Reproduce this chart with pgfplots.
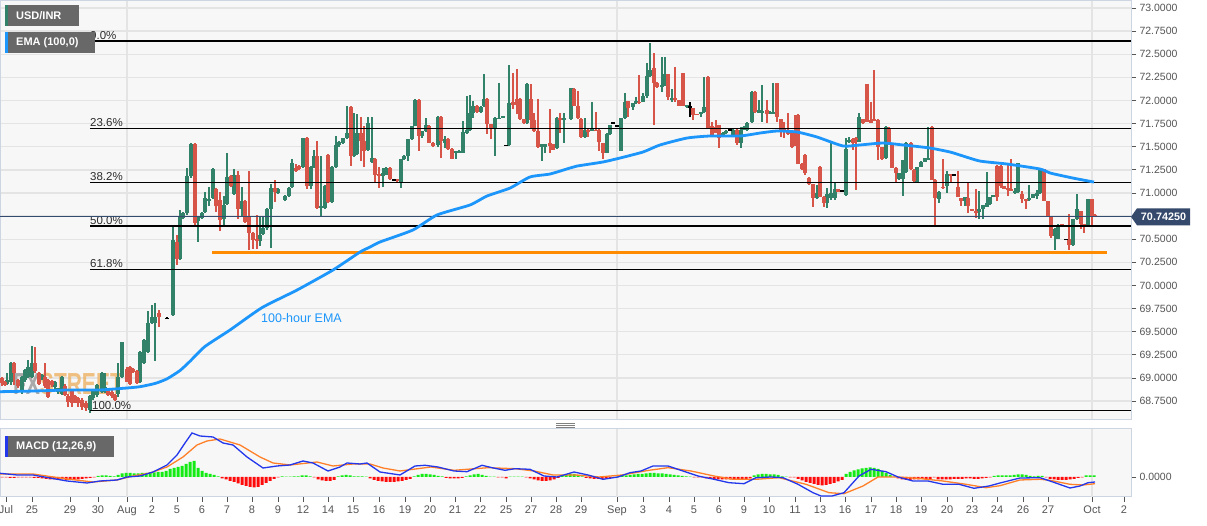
\documentclass[border=0pt]{standalone}
\usepackage{fontspec}
\setmainfont{Liberation Sans}
\usepackage{pgfplots}
\usepackage{pgfplotstable}
\pgfplotsset{compat=1.18}

\definecolor{panelbg}{RGB}{247,247,247}
\definecolor{gridcol}{RGB}{228,228,228}
\definecolor{bordercol}{RGB}{205,212,226}
\definecolor{labelcol}{RGB}{85,85,85}
\definecolor{cgreen}{RGB}{49,130,104}
\definecolor{cred}{RGB}{214,84,72}
\definecolor{emacol}{RGB}{28,150,250}
\definecolor{orangeline}{RGB}{255,140,0}
\definecolor{pricecol}{RGB}{52,75,112}
\definecolor{tagcol}{RGB}{52,73,107}
\definecolor{boxgrey}{RGB}{104,104,104}
\definecolor{macdblue}{RGB}{35,55,235}
\definecolor{macdorange}{RGB}{255,128,40}
\definecolor{histgreen}{RGB}{20,235,20}
\definecolor{histred}{RGB}{255,10,10}
\definecolor{wmgrey}{RGB}{150,150,150}
\definecolor{wmorange}{RGB}{238,178,100}
\definecolor{fibtext}{RGB}{45,45,45}

\newcommand\tickfont{\fontsize{10.5}{12}\selectfont}
\newcommand\boxfont{\bfseries\fontsize{11}{13}\selectfont}
\newcommand\fibfont{\fontsize{11.5}{13}\selectfont}

\pgfplotsset{
  wick/.style={draw=none, mark=none, forget plot,
    error bars/.cd, y dir=both, y explicit, error mark=none,
    error bar style={line width=1.2pt, draw=#1}},
  body/.style={draw=none, mark=none, forget plot,
    error bars/.cd, y dir=both, y explicit, error mark=none,
    error bar style={line width=3.6pt, draw=#1}},
}

% hourly candles: x position (px), open, high, low, close
\pgfplotstableread{
x o h l c
7 68.94 69.05 68.92 68.98
11 68.96 69.17 68.92 69.16
22 68.87 69.02 68.83 69.01
25 68.98 69.10 68.96 69.09
28 69.01 69.19 69.00 69.12
32 69.01 69.34 69.00 69.16
42 69.00 69.04 68.98 69.03
55 68.90 68.97 68.88 68.96
58 68.85 68.89 68.83 68.89
62 68.83 69.02 68.82 69.01
90 68.65 68.82 68.62 68.81
93 68.78 68.88 68.76 68.87
97 68.82 68.93 68.80 68.92
102 68.85 69.07 68.84 69.05
105 68.85 69.05 68.84 68.90
118 68.83 69.16 68.80 69.01
122 69.01 69.39 69.00 69.39
140 68.96 69.29 68.94 69.28
144 69.16 69.42 69.15 69.41
148 69.28 69.73 69.27 69.59
152 69.59 69.79 69.58 69.66
155 69.59 69.81 69.18 69.66
173 69.68 70.64 69.67 70.49
180 70.29 70.82 70.28 70.75
183 70.73 70.79 70.72 70.78
187 70.78 71.27 70.76 71.18
191 71.18 71.54 71.16 71.53
198 70.70 70.74 70.47 70.74
202 70.73 70.79 70.72 70.78
205 70.79 71.01 70.78 70.95
209 70.91 71.06 70.86 70.94
213 70.95 71.27 70.94 71.26
224 70.72 70.97 70.65 70.87
227 70.88 71.43 70.87 71.17
234 70.99 71.26 70.98 71.19
242 70.83 71.06 70.75 70.91
260 70.48 70.75 70.43 70.55
263 70.56 70.75 70.55 70.62
267 70.62 70.84 70.60 70.83
271 70.83 71.10 70.41 71.06
278 71.00 71.05 70.99 71.04
285 70.93 70.98 70.91 70.97
289 70.97 71.07 70.96 71.06
292 71.07 71.37 71.06 71.32
303 71.28 71.60 71.27 71.59
311 71.07 71.29 71.04 71.28
314 71.28 71.47 71.27 71.40
321 70.84 71.40 70.74 70.86
325 70.84 71.09 70.83 71.08
332 70.90 71.29 70.89 71.28
336 71.28 71.62 71.27 71.52
339 71.52 71.56 71.50 71.55
343 71.54 71.60 71.53 71.59
347 71.59 71.94 71.58 71.65
354 71.40 71.86 71.39 71.44
357 71.42 71.86 71.41 71.65
368 71.46 71.82 71.45 71.76
372 71.33 71.82 71.32 71.38
383 71.185 71.275 71.06 71.22
386 71.20 71.28 71.19 71.275
401 71.11 71.37 71.06 71.365
404 71.365 71.41 71.36 71.40
408 71.40 71.58 71.35 71.58
412 71.58 71.73 71.57 71.73
415 71.73 72.02 71.72 72.01
422 71.62 71.67 71.60 71.67
426 71.67 71.815 71.66 71.73
438 71.516 71.83 71.50 71.826
445 71.545 71.62 71.49 71.58
456 71.43 71.46 71.37 71.455
459 71.437 71.46 71.43 71.455
463 71.437 71.78 71.43 71.66
467 71.653 72.05 71.64 71.682
470 71.682 72.056 71.67 71.862
473 71.862 71.995 71.815 71.941
481 71.876 71.94 71.87 71.93
484 71.941 72.283 71.93 72.02
495 71.707 71.82 71.40 71.81
499 71.804 72.193 71.80 71.815
503 71.815 71.83 71.81 71.83
509 71.516 72.38 71.51 71.977
527 71.761 72.19 71.75 72.182
542 71.502 71.53 71.35 71.527
545 71.502 71.53 71.437 71.527
557 71.49 71.82 71.48 71.815
564 71.797 71.869 71.545 71.815
571 71.80 72.14 71.79 72.13
585 71.60 71.81 71.59 71.68
592 71.675 71.99 71.67 71.693
607 71.437 71.65 71.43 71.639
610 71.639 71.74 71.63 71.736
621 71.459 71.81 71.45 71.808
625 71.808 72.078 71.80 71.988
633 71.934 71.975 71.898 71.97
636 71.97 72.042 71.96 71.999
643 71.988 72.078 71.98 72.053
647 72.053 72.402 72.024 72.265
650 72.265 72.625 72.26 72.33
662 72.143 72.474 72.096 72.168
665 72.168 72.474 72.16 72.287
672 72.006 72.121 71.988 72.031
687 71.927 71.955 71.92 71.952
701 71.855 71.88 71.826 71.88
704 71.88 72.251 71.87 71.927
723 71.617 71.66 71.61 71.653
726 71.646 71.68 71.64 71.675
733 71.617 71.69 71.61 71.682
741 71.538 71.718 71.484 71.682
744 71.682 71.72 71.68 71.718
747 71.682 71.77 71.67 71.761
752 71.772 72.10 71.76 72.096
759 71.869 72.006 71.86 71.898
762 71.869 72.168 71.772 71.891
770 71.862 71.89 71.85 71.88
773 71.862 72.186 71.85 71.88
817 70.944 71.088 70.94 71.005
827 70.897 71.052 70.836 70.991
831 70.944 71.545 70.926 71.005
835 70.944 71.106 70.926 71.041
846 70.98 71.592 70.97 71.473
849 71.556 71.603 71.538 71.574
859 71.556 71.869 71.55 71.819
886 71.376 71.72 71.37 71.711
899 71.149 71.22 71.14 71.214
903 71.149 71.36 70.969 71.358
906 71.232 71.55 71.22 71.545
917 71.124 71.28 71.12 71.279
921 71.286 71.35 71.28 71.34
925 71.34 71.38 71.33 71.376
928 71.365 71.718 71.36 71.376
939 70.933 71.02 70.897 71.016
947 71.07 71.237 70.998 71.20
965 70.913 70.96 70.859 70.956
979 70.794 71.021 70.715 70.83
983 70.823 70.87 70.715 70.866
987 70.852 71.226 70.85 70.895
990 70.877 70.96 70.87 70.956
993 70.96 70.975 70.955 70.974
1015 70.996 71.057 70.985 71.021
1018 71.01 71.32 71.00 71.32
1029 70.924 71.093 70.92 70.949
1033 70.949 70.99 70.945 70.985
1037 70.967 71.032 70.931 70.996
1040 70.996 71.273 70.99 71.255
1055 70.535 70.62 70.384 70.614
1058 70.506 70.66 70.50 70.65
1073 70.434 70.72 70.43 70.715
1077 70.715 70.985 70.71 70.83
1088 70.65 70.935 70.64 70.931
}\upT

\pgfplotstableread{
x o h l c
2 69.00 69.01 68.91 68.94
5 68.96 68.97 68.91 68.92
14 69.16 69.17 68.92 69.05
18 68.98 68.99 68.89 68.91
35 69.16 69.34 69.05 69.07
39 69.05 69.07 68.92 68.94
45 69.01 69.16 68.89 68.91
48 68.98 68.99 68.78 68.80
52 68.97 68.98 68.90 68.92
65 68.91 68.93 68.81 68.82
68 68.81 68.83 68.69 68.74
72 68.87 68.88 68.69 68.73
75 68.80 68.82 68.73 68.74
78 68.78 68.80 68.69 68.73
82 68.76 68.78 68.65 68.69
86 68.73 68.75 68.64 68.67
108 68.87 68.89 68.80 68.82
112 68.85 68.87 68.78 68.80
115 68.82 68.83 68.75 68.76
127 69.10 69.12 68.96 68.96
130 69.12 69.13 68.92 68.93
133 69.10 69.11 69.05 69.07
137 69.08 69.09 68.93 68.94
159 69.70 69.73 69.55 69.66
177 70.47 70.55 70.22 70.29
195 71.53 71.54 70.63 70.68
216 71.04 71.05 70.79 70.86
220 70.93 71.01 70.59 70.71
231 71.18 71.19 71.07 71.08
238 71.19 71.24 70.72 70.83
245 70.91 70.92 70.68 70.69
249 70.75 71.24 70.38 70.57
253 70.57 70.58 70.39 70.49
257 70.50 70.76 70.39 70.48
275 71.06 71.14 70.90 71.01
296 71.27 71.31 71.23 71.24
299 71.29 71.30 71.25 71.26
307 71.59 71.60 71.04 71.08
317 71.40 71.56 70.83 70.84
328 71.41 71.42 70.89 70.90
351 71.93 71.94 71.29 71.40
361 71.65 71.82 71.35 71.56
364 71.56 71.73 71.28 71.46
375 71.37 71.38 71.11 71.19
379 71.20 71.28 71.06 71.18
390 71.275 71.28 71.14 71.15
397 71.15 71.155 71.12 71.14
419 72.01 72.02 71.455 71.62
429 71.73 71.74 71.54 71.545
433 71.545 71.55 71.50 71.51
441 71.826 71.83 71.38 71.56
448 71.58 71.59 71.47 71.473
452 71.48 71.49 71.365 71.37
477 71.941 71.95 71.87 71.876
487 72.02 72.03 71.635 71.743
491 71.743 71.75 71.58 71.707
513 71.984 72.30 71.905 71.948
517 72.02 72.337 71.85 71.95
520 72.02 72.03 71.79 71.797
524 71.797 71.80 71.743 71.761
531 72.02 72.175 71.689 71.79
534 71.79 71.869 71.66 71.67
538 71.67 72.013 71.49 71.502
550 71.545 71.912 71.437 71.51
553 71.527 71.53 71.466 71.466
560 71.815 71.869 71.653 71.79
574 72.13 72.14 71.94 71.94
578 71.94 72.10 71.80 71.81
581 71.80 71.81 71.60 71.60
588 71.68 71.69 71.61 71.664
596 71.682 71.88 71.67 71.675
599 71.68 71.69 71.45 71.556
603 71.538 71.54 71.365 71.437
628 71.999 72.00 71.826 71.916
639 71.988 72.276 71.96 71.97
654 72.348 72.517 71.736 72.193
657 72.193 72.20 72.14 72.143
668 72.287 72.29 72.006 72.042
675 72.031 72.359 71.988 72.006
679 72.006 72.01 71.941 71.941
683 72.294 72.30 71.94 71.945
693 71.916 71.92 71.79 71.844
697 71.855 71.86 71.84 71.844
708 72.251 72.26 71.689 71.689
712 71.725 71.772 71.61 71.628
716 71.718 71.79 71.65 71.653
719 71.736 71.74 71.484 71.592
737 71.682 71.69 71.52 71.538
755 72.096 72.10 71.862 71.88
767 71.898 72.006 71.761 71.855
777 72.186 72.19 71.772 71.826
781 71.797 71.80 71.61 71.664
784 71.70 71.772 71.592 71.664
788 71.675 71.869 71.63 71.639
792 71.664 71.67 71.484 71.495
795 71.556 71.844 71.51 71.52
798 71.844 71.85 71.31 71.315
802 71.315 71.32 71.25 71.257
805 71.412 71.42 71.196 71.214
809 71.16 71.17 71.088 71.099
813 71.095 71.10 70.854 70.944
820 71.286 71.29 70.962 70.962
824 70.962 70.97 70.854 70.897
838 71.041 71.045 71.01 71.016
853 71.581 71.59 71.466 71.545
856 71.592 71.60 71.034 71.574
863 71.797 71.80 71.75 71.754
867 72.179 72.18 71.77 71.772
871 71.79 71.988 71.76 71.761
874 71.797 72.33 71.78 71.783
878 71.79 71.80 71.358 71.495
882 71.495 71.50 71.36 71.365
889 71.70 71.71 71.53 71.531
892 71.52 71.53 71.27 71.275
896 71.275 71.28 71.124 71.214
911 71.545 71.55 71.25 71.257
914 71.25 71.26 71.124 71.124
932 71.718 71.72 71.142 71.142
935 71.142 71.15 70.638 70.944
943 71.07 71.37 71.04 71.052
951 71.201 71.21 71.111 71.19
958 71.068 71.237 70.96 70.96
961 70.949 70.95 70.859 70.913
968 70.949 71.111 70.787 70.859
972 70.823 70.83 70.80 70.805
976 70.805 71.039 70.733 70.787
997 71.291 71.30 70.913 70.96
1001 71.291 71.30 71.057 71.075
1004 71.075 71.08 71.039 71.039
1008 71.057 71.309 70.967 71.032
1011 71.039 71.37 71.02 71.021
1022 70.985 71.021 70.895 70.931
1026 70.931 70.935 70.823 70.913
1044 71.255 71.26 70.913 70.913
1048 70.913 70.92 70.751 70.751
1051 70.751 70.755 70.517 70.535
1062 70.661 70.665 70.64 70.643
1069 70.499 70.769 70.384 70.434
1081 70.805 70.81 70.607 70.661
1084 70.661 70.665 70.571 70.643
1092 70.931 70.935 70.643 70.751
1095 70.758 70.77 70.74 70.7425
}\downT

\pgfplotstableread{
x o h l c
167 69.645 69.655 69.64 69.65
394 71.14 71.145 71.135 71.14
506 71.52 71.52 71.51 71.516
613 71.76 71.77 71.75 71.761
617 71.73 71.73 71.72 71.729
690 71.934 71.988 71.826 71.934
730 71.682 71.685 71.68 71.682
842 71.023 71.025 71.02 71.023
954 71.20 71.202 71.198 71.20
1066 70.50 70.50 70.498 70.499
}\dojiT

\pgfplotstableread{
x y
0 68.851
33 68.858
67 68.869
100 68.87
127 68.891
140 68.905
155 68.94
167 68.99
180 69.08
190 69.18
205 69.34
230 69.518
262 69.76
297 69.95
333 70.167
360 70.361
370 70.415
380 70.47
413 70.60
437 70.762
470 70.87
487 70.967
510 71.053
530 71.173
550 71.205
570 71.27
577 71.291
603 71.335
620 71.378
643 71.443
660 71.519
687 71.594
710 71.616
740 71.616
760 71.648
777 71.67
797 71.659
817 71.605
843 71.508
860 71.519
883 71.54
903 71.519
930 71.486
950 71.443
960 71.41
980 71.345
1007 71.313
1040 71.259
1050 71.216
1073 71.161
1094 71.118
}\emaT

% MACD in units of 0.001
\pgfplotstableread{
x y
0 3.7
17 2
33 2
50 -1
67 -4
77 -5
87 -6
100 -4
117 -3
127 0
140 1
153 5
167 12
177 22
185 34
192 44
200 41
213 40
223 34
233 32
247 20
263 9
277 11
290 12
303 16
313 14
328 6
340 10
347 14
360 13
367 14
380 5
400 2
415 11
425 11.7
438 10
454 6
467 5.3
482 11.7
492 9.3
505 6.7
515 8.3
530 7.7
544 1
557 0
574 5
588 2
603 -2.3
618 0
630 4.3
641 6
653 11
668 11
683 6
698 1
714 -2.3
729 -5.7
744 -6.7
756 -0.7
771 0
783 -0.7
798 -7.3
813 -15.7
821 -19
832 -19
844 -15.7
859 1
871 7.7
886 5.3
898 0
913 -4
928 -4
943 -7.3
959 -7.3
974 -11.3
989 -9
1000 -6
1020 -1
1040 -0.7
1050 -4
1070 -11
1080 -9
1088 -5.7
1095 -5
}\macdT

\pgfplotstableread{
x y
0 3
33 3
67 -2
93 -5
117 -3
133 1
150 4
167 10
183 20
197 32
207 36
220 38
240 32
260 20
273 14
290 12
317 15
333 11
353 13
370 13
383 9
400 6
431 10
454 6.7
488 9.3
515 8.3
534 6
553 2
576 2
599 0
622 2
649 6.7
668 9.3
691 6
714 1
733 -2.3
756 -2.3
779 -0.7
806 -7.3
829 -15.7
844 -16.7
863 -9
878 0
898 0
917 -1.3
943 -4
966 -7.3
986 -10.7
1000 -8.7
1020 -3
1040 -2.3
1050 -3.3
1070 -7.3
1083 -8
1095 -6.7
}\sigT

\begin{document}
\begin{tikzpicture}
\useasboundingbox (0pt,0pt) rectangle (1207pt,526pt);
\fill[white] (0pt,0pt) rectangle (1207pt,526pt);

% ---------------- main price panel ----------------
\begin{axis}[
  at={(0pt,106pt)}, anchor=south west,
  scale only axis, width=1131pt, height=419pt,
  xmin=0, xmax=1131, ymin=68.545, ymax=73.076,
  axis background/.style={fill=panelbg},
  axis line style={draw=bordercol, line width=1pt},
  ytick={68.75,69,69.25,69.5,69.75,70,70.25,70.5,70.75,71,71.25,71.5,71.75,72,72.25,72.5,72.75,73},
  yticklabels={68.7500,69.0000,69.2500,69.5000,69.7500,70.0000,70.2500,70.5000,{},71.0000,71.2500,71.5000,71.7500,72.0000,72.2500,72.5000,72.7500,73.0000},
  ytick pos=right, yticklabel pos=right,
  tick align=outside, major tick length=5pt,
  ytick style={draw=labelcol, line width=0.8pt},
  yticklabel style={font=\tickfont, text=labelcol},
  xtick={127,617,1092}, xticklabels={}, xtick style={draw=none},
  grid=major, major grid style={draw=gridcol, line width=1.4pt},
]
% watermark
\node[opacity=0.8, inner sep=0pt] at (axis cs:68,68.935)
  {\scalebox{1}[1.45]{\fontsize{21}{21}\selectfont\bfseries{\color{wmgrey}FX}{\color{wmorange}STREET}}};

% candles
\addplot[wick=cgreen] table[x=x, y expr={(\thisrow{h}+\thisrow{l})/2}, y error expr={(\thisrow{h}-\thisrow{l})/2}] {\upT};
\addplot[body=cgreen] table[x=x, y expr={(\thisrow{o}+\thisrow{c})/2}, y error expr={max(abs(\thisrow{c}-\thisrow{o})/2,0.006)}] {\upT};
\addplot[wick=cred] table[x=x, y expr={(\thisrow{h}+\thisrow{l})/2}, y error expr={(\thisrow{h}-\thisrow{l})/2}] {\downT};
\addplot[body=cred] table[x=x, y expr={(\thisrow{o}+\thisrow{c})/2}, y error expr={max(abs(\thisrow{c}-\thisrow{o})/2,0.006)}] {\downT};
\addplot[wick=black] table[x=x, y expr={(\thisrow{h}+\thisrow{l})/2}, y error expr={(\thisrow{h}-\thisrow{l})/2}] {\dojiT};
\addplot[body=black] table[x=x, y expr={(\thisrow{o}+\thisrow{c})/2}, y error expr={max(abs(\thisrow{c}-\thisrow{o})/2,0.006)}] {\dojiT};

% Fibonacci retracement levels
\addplot[black, line width=1.4pt] coordinates {(90,72.643) (1131,72.643)};
\addplot[black, line width=1.4pt] coordinates {(90,71.699) (1131,71.699)};
\addplot[black, line width=1.4pt] coordinates {(90,71.116) (1131,71.116)};
\addplot[black, line width=1.4pt] coordinates {(90,70.644) (1131,70.644)};
\addplot[black, line width=1.4pt] coordinates {(90,70.172) (1131,70.172)};
\addplot[black, line width=1.4pt] coordinates {(90,68.645) (1131,68.645)};
\node[anchor=south west, inner sep=0pt, font=\fibfont, text=fibtext] at (axis cs:90,72.643) [yshift=1.5pt] {0.0\%};
\node[anchor=south west, inner sep=0pt, font=\fibfont, text=fibtext] at (axis cs:90,71.699) [yshift=1.5pt] {23.6\%};
\node[anchor=south west, inner sep=0pt, font=\fibfont, text=fibtext] at (axis cs:90,71.116) [yshift=1.5pt] {38.2\%};
\node[anchor=south west, inner sep=0pt, font=\fibfont, text=fibtext] at (axis cs:90,70.644) [yshift=1.5pt] {50.0\%};
\node[anchor=south west, inner sep=0pt, font=\fibfont, text=fibtext] at (axis cs:90,70.172) [yshift=1.5pt] {61.8\%};
\node[anchor=south west, inner sep=0pt, font=\fibfont, text=fibtext] at (axis cs:92,68.645) [yshift=1.0pt] {100.0\%};

% support line and last price
\addplot[orangeline, line width=3.5pt] coordinates {(212,70.3575) (1107,70.3575)};
\addplot[pricecol, line width=1.3pt] coordinates {(0,70.7425) (1131,70.7425)};

% 100-hour EMA
\addplot[emacol, line width=2.8pt, line join=round, smooth, tension=0.35] table[x=x, y=y] {\emaT};
\node[anchor=west, inner sep=0pt, text=emacol, font=\fontsize{12.5}{14}\selectfont] at (axis cs:261,69.648) {100-hour EMA};
\end{axis}

% ---------------- MACD panel ----------------
\begin{axis}[
  at={(0pt,29pt)}, anchor=south west,
  scale only axis, width=1131pt, height=68pt,
  xmin=0, xmax=1131, ymin=-20, ymax=48,
  axis background/.style={fill=panelbg},
  axis line style={draw=bordercol, line width=1pt},
  ytick={0}, yticklabels={0.0000},
  ytick pos=right, yticklabel pos=right,
  xtick pos=left, xticklabel pos=left,
  tick align=outside, major tick length=5pt,
  tick style={draw=labelcol, line width=0.8pt},
  yticklabel style={font=\tickfont, text=labelcol},
  xticklabel style={font=\fontsize{11}{13}\selectfont, text=labelcol},
  xtick={6,32,70,98,127,152,177,202,227,252,278,303,328,353,379,405,430,455,480,506,531,556,581,617,643,669,694,719,744,769,795,820,845,871,896,921,947,972,997,1023,1048,1092,1124},
  xticklabels={Jul,25,29,30,Aug,2,5,6,7,8,9,12,14,15,16,19,20,21,22,25,27,28,29,Sep,3,4,5,6,9,10,11,13,16,17,18,19,20,23,24,26,27,Oct,2},
  extra x ticks={127,617,1092}, extra x tick labels={},
  extra x tick style={grid=major, major tick length=0pt},
  major grid style={draw=gridcol, line width=1.4pt},
]
\addplot[ybar, bar width=3pt, fill=histgreen, draw=none] coordinates {
(98,1) (102,1.5) (106,1.5) (110,1) (114,0.5) (118,2) (122,3.5) (126,4) (130,4) (134,3.5) (138,3.5) (142,4) (146,4) (150,4.5) (154,4.5) (158,5) (162,5) (166,6) (170,8) (174,9) (178,10) (182,11) (186,13) (190,15) (194,16) (198,9) (202,6) (206,4) (210,3) (214,2) (218,0.5)
(282,0.5) (286,0.3) (290,0.3) (294,0.5) (298,0.5) (302,1.5) (306,1.5) (310,0.5) (338,0.5) (342,1.5) (346,2) (350,1.5) (354,0.5) (358,0.5) (362,0.5) (366,0.3)
(414,0.5) (418,2) (422,3) (426,3) (430,2.5) (434,2) (438,1) (442,0.5) (466,0.5) (470,1.5) (474,2.5) (478,3) (482,2) (486,1) (490,0.3) (494,0.3) (510,0.3) (514,0.3) (518,0.3) (522,0.3)
(562,1) (566,2.5) (570,3) (574,3) (578,2) (582,0.5) (618,0.5) (622,1) (626,1.5) (630,2) (634,2.5) (638,3) (642,3) (646,3.5) (650,4) (654,4) (658,3.5) (662,3.5) (666,3) (670,2.5) (674,2) (678,1.5) (682,1) (686,0.5) (690,0.3)
(754,1.5) (758,2.5) (762,3) (766,3) (770,2.5) (774,2.5) (778,2) (782,0.5) (786,0.3)
(846,3) (850,5) (854,6.5) (858,7.5) (862,8.5) (866,9) (870,9.5) (874,9) (878,8) (882,6) (886,4) (890,2) (894,0.3)
(994,1) (998,1.5) (1002,1.5) (1006,1.5) (1010,1.5) (1014,2) (1018,2.5) (1022,2.5) (1026,2) (1030,1) (1034,0.5) (1038,1) (1042,1) (1086,1.5) (1090,1.5) (1094,1.5)
};
\addplot[ybar, bar width=3pt, fill=histred, draw=none] coordinates {
(2,-0.5) (6,-0.5) (10,-1) (14,-1) (18,-0.5) (22,-0.5) (26,-0.5) (30,-0.5) (34,-1) (38,-1) (42,-1.5) (46,-2) (50,-2.5) (54,-2.5) (58,-2.5) (62,-2.5) (66,-3) (70,-3) (74,-3) (78,-2.5) (82,-2) (86,-1.5) (90,-1) (94,-0.5)
(222,-1.5) (226,-2.5) (230,-4) (234,-5) (238,-6.5) (242,-8) (246,-9) (250,-10) (254,-10.5) (258,-10) (262,-8) (266,-6) (270,-4) (274,-2) (278,-0.5)
(314,-0.5) (318,-2.5) (322,-3.5) (326,-4) (330,-4) (334,-3) (370,-1.5) (374,-3) (378,-4) (382,-4.5) (386,-5) (390,-5) (394,-5) (398,-4.5) (402,-4) (406,-3) (410,-2)
(446,-1) (450,-1.5) (454,-1.5) (458,-1.5) (462,-1) (498,-0.3) (502,-0.3) (506,-1.5) (526,-0.3) (530,-1.5) (534,-2.5) (538,-3.5) (542,-4) (546,-4) (550,-3.5) (554,-2.5) (558,-1)
(586,-1) (590,-1.5) (594,-2) (598,-2) (602,-2) (606,-1.5) (610,-1) (614,-0.3)
(694,-0.3) (698,-0.5) (702,-0.5) (706,-1.5) (710,-2) (714,-2) (718,-2.5) (722,-2.5) (726,-2.5) (730,-2.5) (734,-2.5) (738,-2.5) (742,-2.5) (746,-2) (750,-1.5)
(790,-0.3) (794,-0.5) (798,-2) (802,-3.5) (806,-5) (810,-6) (814,-7) (818,-8) (822,-8.5) (826,-8) (830,-7) (834,-6) (838,-4.5) (842,-3)
(898,-1.5) (902,-2.5) (906,-3) (910,-3) (914,-2.5) (918,-2.5) (922,-2) (926,-2.5) (930,-2.5) (934,-0.5) (938,-2.5) (942,-2.5) (946,-2.5) (950,-2.5) (954,-2) (958,-2) (962,-2) (966,-1.5) (970,-1.5) (974,-2) (978,-2) (982,-1.5) (986,-1) (990,-0.5)
(1046,-0.5) (1050,-2) (1054,-2.5) (1058,-3) (1062,-3) (1066,-3) (1070,-2.5) (1074,-2) (1078,-1) (1082,-0.5)
};
\addplot[macdorange, line width=1.3pt] table[x=x, y=y] {\sigT};
\addplot[macdblue, line width=1.3pt] table[x=x, y=y] {\macdT};
\end{axis}

% ---------------- overlays ----------------
% panel separator handle
\draw[gray, line width=0.8pt] (556pt,103pt) -- (575pt,103pt);
\draw[gray, line width=0.8pt] (556pt,101pt) -- (575pt,101pt);
\draw[gray, line width=0.8pt] (556pt,99pt) -- (575pt,99pt);

% legend boxes
\fill[boxgrey] (5pt,521pt) rectangle (79pt,500pt);
\fill[cgreen] (5pt,521pt) rectangle (7.5pt,500pt);
\node[anchor=west, inner sep=0pt, text=white, font=\boxfont] at (16pt,510.5pt) {USD/INR};
\fill[boxgrey] (5pt,494pt) rectangle (95pt,473pt);
\fill[emacol] (5pt,494pt) rectangle (7.5pt,473pt);
\node[anchor=west, inner sep=0pt, text=white, font=\boxfont] at (16pt,483.5pt) {EMA (100,0)};
\fill[boxgrey] (5pt,90pt) rectangle (114pt,69pt);
\fill[macdblue] (5pt,90pt) rectangle (7.5pt,69pt);
\node[anchor=west, inner sep=0pt, text=white, font=\boxfont] at (16pt,79.5pt) {MACD (12,26,9)};

% last price tag
\fill[tagcol] (1131pt,309.2pt) -- (1137pt,317.7pt) -- (1190pt,317.7pt) -- (1190pt,300.7pt) -- (1137pt,300.7pt) -- cycle;
\node[text=white, inner sep=0pt, font=\bfseries\fontsize{10.8}{12}\selectfont] at (1163.5pt,309.2pt) {70.74250};
\end{tikzpicture}
\end{document}
